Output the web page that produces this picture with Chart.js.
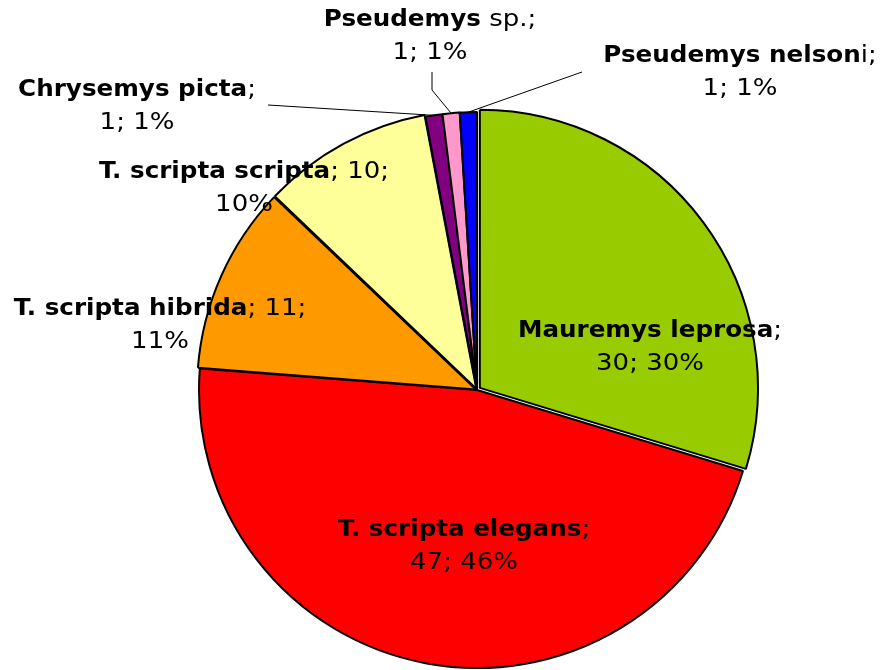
<!DOCTYPE html>
<html>
<head>
<meta charset="utf-8">
<script src="https://cdn.jsdelivr.net/npm/chart.js@4"></script>
<style>
  html, body { margin: 0; padding: 0; background: #fff; }
  #wrap { width: 883px; height: 670px; }
</style>
</head>
<body>
<div id="wrap"><canvas id="pie" width="883" height="670"></canvas></div>
<script>
// data
const species = ['Mauremys leprosa', 'T. scripta elegans', 'T. scripta hibrida', 'T. scripta scripta', 'Chrysemys picta', 'Pseudemys', 'Pseudemys nelson'];
const suffixes = [';', ';', '; 11;', '; 10;', ';', ' sp.;', 'i;'];
const counts = [30, 47, 11, 10, 1, 1, 1];
const percents = ['30%', '46%', '11%', '10%', '1%', '1%', '1%'];
const colors = ['#99CC00', '#FF0000', '#FF9900', '#FFFF99', '#800080', '#FF99CC', '#0000FF'];

// label placement (centre of text block) + optional leader line start
const labelPos = [
  { x: 650, y: 331 },
  { x: 464, y: 530 },
  { x: 160, y: 309, second: '11%' },
  { x: 244, y: 172, second: '10%' },
  { x: 137, y: 90, leader: [268, 105] },
  { x: 430, y: 20, leader: [432, 72, 432, 90] },
  { x: 740, y: 56, leader: [582, 72] }
];

const FONT_SIZE = 23;
const FAMILY = '"DejaVu Sans", Verdana, sans-serif';
const SX_BOLD = 1.07;   // widen DejaVu towards Verdana metrics
const SX_NORMAL = 1.13;

function drawMixed(ctx, parts, cx, y) {
  // parts: [{t, bold}]
  let w = 0;
  parts.forEach(p => {
    ctx.font = (p.bold ? 'bold ' : '') + FONT_SIZE + 'px ' + FAMILY;
    p.sx = p.bold ? SX_BOLD : SX_NORMAL;
    p.w = ctx.measureText(p.t).width * p.sx;
    w += p.w;
  });
  let x = cx - w / 2;
  parts.forEach(p => {
    ctx.font = (p.bold ? 'bold ' : '') + FONT_SIZE + 'px ' + FAMILY;
    ctx.save();
    ctx.translate(x, y);
    ctx.scale(p.sx, 1);
    ctx.fillText(p.t, 0, 0);
    ctx.restore();
    x += p.w;
  });
}

const labelPlugin = {
  id: 'labelPlugin',
  afterDatasetsDraw(chart) {
    const { ctx } = chart;
    const meta = chart.getDatasetMeta(0);
    ctx.save();
    ctx.fillStyle = '#000';
    ctx.textBaseline = 'middle';
    ctx.textAlign = 'left';

    // leader lines
    ctx.strokeStyle = '#000';
    ctx.lineWidth = 1;
    meta.data.forEach((arc, i) => {
      const lp = labelPos[i];
      if (!lp.leader) return;
      const p = arc.getProps(['x', 'y', 'startAngle', 'endAngle', 'outerRadius']);
      const mid = (p.startAngle + p.endAngle) / 2;
      const ex = p.x + Math.cos(mid) * p.outerRadius;
      const ey = p.y + Math.sin(mid) * p.outerRadius;
      ctx.beginPath();
      ctx.moveTo(lp.leader[0], lp.leader[1]);
      for (let k = 2; k < lp.leader.length; k += 2) ctx.lineTo(lp.leader[k], lp.leader[k + 1]);
      ctx.lineTo(ex, ey);
      ctx.stroke();
    });

    species.forEach((name, i) => {
      const lp = labelPos[i];
      const first = [{ t: name, bold: true }, { t: suffixes[i], bold: false }];
      drawMixed(ctx, first, lp.x, lp.y);
      const second = lp.second || (counts[i] + '; ' + percents[i]);
      drawMixed(ctx, [{ t: second, bold: false }], lp.x, lp.y + 33);
    });
    ctx.restore();
  }
};

new Chart(document.getElementById('pie').getContext('2d'), {
  type: 'pie',
  data: {
    labels: species,
    datasets: [{
      data: counts,
      backgroundColor: colors,
      borderColor: '#000',
      borderWidth: 2,
      offset: [14, 0, 6, 6, 0, 0, 0]
    }]
  },
  options: {
    responsive: false,
    animation: false,
    radius: 278,
    layout: { padding: { left: 71, right: 0, top: 110, bottom: 0 } },
    plugins: {
      legend: { display: false },
      tooltip: { enabled: false }
    }
  },
  plugins: [labelPlugin]
});
</script>
</body>
</html>
